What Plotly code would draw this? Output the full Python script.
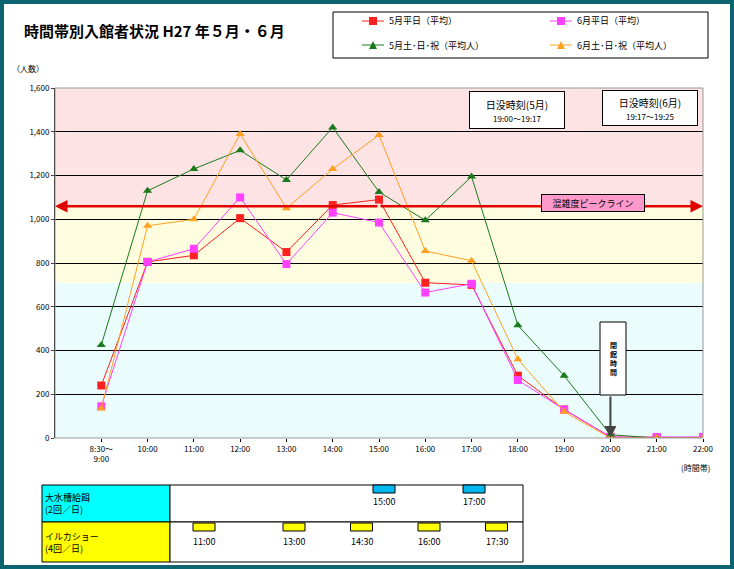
import plotly.graph_objects as go

cats = ["8:30～<br>9:00","10:00","11:00","12:00","13:00","14:00","15:00","16:00","17:00","18:00","19:00","20:00","21:00","22:00"]
may_wd = [240, 805, 835, 1005, 850, 1065, 1090, 710, 700, 285, 130, 5, 0, 0]
jun_wd = [145, 805, 865, 1100, 795, 1030, 985, 665, 705, 265, 130, 5, 5, 5]
may_we = [425, 1130, 1230, 1315, 1180, 1420, 1125, 995, 1195, 515, 285, 15, 0, 0]
jun_we = [135, 970, 1000, 1390, 1050, 1230, 1385, 855, 810, 360, 120, 0, 0, 0]
peak = 1060
feed_times = [15.0, 17.0]
show_times = [11.0, 13.0, 14.5, 16.0, 17.5]

W, H = 734, 569
L, R, T, B = 55, 703, 88, 438
def px(x): return (x - L) / (R - L)
def py(y): return (B - y) / (B - T)

x = list(range(len(cats)))
fig = go.Figure()
series = [("5月平日（平均）", may_wd, "#ff2020", "square"),
          ("6月平日（平均）", jun_wd, "#ff40ff", "square"),
          ("5月土･日･祝（平均人）", may_we, "#1a7a1a", "triangle-up"),
          ("6月土･日･祝（平均人）", jun_we, "#ffa020", "triangle-up")]
for name, v, c, s in series:
    fig.add_trace(go.Scatter(x=x, y=v, name=name, mode="lines+markers", showlegend=False,
                             line=dict(color=c, width=1), marker=dict(symbol=s, size=8, color=c)))

shapes = []
ann = []
def A(**k):
    k.setdefault("xref", "paper"); k.setdefault("yref", "paper")
    k.setdefault("showarrow", False); k.setdefault("xanchor", "center"); k.setdefault("yanchor", "middle")
    ann.append(k)

# arrows first so labels sit on top
for end in (13, -1):
    ann.append(dict(x=end, y=peak, xref="x", yref="y", ax=6, ay=peak, axref="x", ayref="y", text="",
                    showarrow=True, arrowhead=2, arrowwidth=2.5, arrowcolor="#e00000"))
ann.append(dict(x=11, y=0, xref="x", yref="y", ax=0, ay=-43, text="", showarrow=True,
                arrowhead=2, arrowsize=1.2, arrowwidth=2, arrowcolor="#444"))

shapes.append(dict(type="rect", xref="paper", yref="paper", x0=px(4), x1=px(730), y0=py(565), y1=py(4),
                   fillcolor="white", line=dict(width=0), layer="below"))
for y0, y1, c in [(0, 710, "#eafcfc"), (710, peak, "#fefde0"), (peak, 1600, "#fde3e3")]:
    shapes.append(dict(type="rect", xref="x", yref="y", x0=-1, x1=13, y0=y0, y1=y1,
                       fillcolor=c, line=dict(width=0), layer="below"))
shapes.append(dict(type="rect", xref="paper", yref="paper", x0=0, x1=1, y0=0, y1=1, line=dict(color="#999", width=1)))
# manual legend
shapes.append(dict(type="rect", xref="paper", yref="paper", x0=px(333), x1=px(708), y0=py(58), y1=py(12),
                   fillcolor="white", line=dict(color="black", width=1)))
for i, (name, v, c, s) in enumerate(series):
    lx = 362 if i % 2 == 0 else 550
    ly = 21 if i < 2 else 45
    shapes.append(dict(type="line", xref="paper", yref="paper", x0=px(lx), x1=px(lx + 22), y0=py(ly), y1=py(ly),
                       line=dict(color=c, width=1)))
    cx = lx + 11
    if s == "square":
        shapes.append(dict(type="rect", xref="paper", yref="paper", x0=px(cx-4), x1=px(cx+4), y0=py(ly+4), y1=py(ly-4),
                           fillcolor=c, line=dict(width=0)))
    else:
        path = "M %f,%f L %f,%f L %f,%f Z" % (px(cx-4), py(ly+4), px(cx+4), py(ly+4), px(cx), py(ly-4))
        shapes.append(dict(type="path", xref="paper", yref="paper", path=path, fillcolor=c, line=dict(width=0)))
    A(x=px(lx + 25), y=py(ly), text=name, xanchor="left", font=dict(size=9))
# closing box
shapes.append(dict(type="rect", xref="paper", yref="paper", x0=px(600), x1=px(626), y0=py(395), y1=py(322),
                   fillcolor="white", line=dict(color="black", width=1)))
# table
def tl(t): return 384 + (t - 15) * 45
shapes += [
    dict(type="rect", xref="paper", yref="paper", x0=px(42), x1=px(170), y0=py(522), y1=py(485), fillcolor="#00ffff", line=dict(color="black", width=1)),
    dict(type="rect", xref="paper", yref="paper", x0=px(42), x1=px(170), y0=py(562), y1=py(522), fillcolor="#ffff00", line=dict(color="black", width=1)),
    dict(type="rect", xref="paper", yref="paper", x0=px(170), x1=px(523), y0=py(522), y1=py(485), fillcolor="white", line=dict(color="black", width=1)),
    dict(type="rect", xref="paper", yref="paper", x0=px(170), x1=px(523), y0=py(562), y1=py(522), fillcolor="white", line=dict(color="black", width=1)),
]
def fmt(t): return "%d:%02d" % (int(t), int(round((t % 1) * 60)))
for t in feed_times:
    c = tl(t)
    shapes.append(dict(type="rect", xref="paper", yref="paper", x0=px(c-11), x1=px(c+11), y0=py(493), y1=py(485), fillcolor="#00b8f0", line=dict(color="black", width=1)))
    A(x=px(c), y=py(501), text=fmt(t), font=dict(size=9))
for t in show_times:
    c = tl(t)
    shapes.append(dict(type="rect", xref="paper", yref="paper", x0=px(c-11), x1=px(c+11), y0=py(531), y1=py(523), fillcolor="#ffff00", line=dict(color="black", width=1)))
    A(x=px(c), y=py(541), text=fmt(t), font=dict(size=9))

A(x=px(43), y=py(503), text="大水槽給餌<br>(2回／日)", xanchor="left", align="left", font=dict(size=9))
A(x=px(43), y=py(542), text="イルカショー<br>(4回／日)", xanchor="left", align="left", font=dict(size=9))
A(x=px(22), y=py(30), text="<b>時間帯別入館者状況 H27 年５月・６月</b>", xanchor="left", font=dict(size=15))
A(x=px(28), y=py(68), text="（人数）", font=dict(size=8))
A(x=px(695), y=py(468), text="(時間帯)", font=dict(size=8))
A(x=px(517), y=py(110), text="日没時刻(5月)<br><span style='font-size:8px'>19:00～19:17</span>",
  bordercolor="black", borderwidth=1, bgcolor="white", width=92, height=34, font=dict(size=10))
A(x=px(650), y=py(108), text="日没時刻(6月)<br><span style='font-size:8px'>19:17～19:25</span>",
  bordercolor="black", borderwidth=1, bgcolor="white", width=92, height=32, font=dict(size=10))
A(x=px(593), y=py(203), text="混雑度ピークライン", bordercolor="black", borderwidth=1, bgcolor="#ff99cc",
  width=100, height=14, font=dict(size=9))
A(x=px(613), y=py(358), text="<b>閉<br>館<br>時<br>間</b>", font=dict(size=7))

fig.update_layout(
    width=W, height=H, margin=dict(l=L, r=W - R, t=T, b=H - B, autoexpand=False),
    paper_bgcolor="#0c6470", plot_bgcolor="rgba(0,0,0,0)",
    font=dict(family="Noto Sans CJK JP", size=9, color="black"),
    shapes=shapes, annotations=ann, showlegend=False,
    xaxis=dict(range=[-1, 13], tickvals=x, ticktext=cats, showgrid=False, zeroline=False, ticks="outside",
               ticklen=3, tickcolor="black", tickfont=dict(size=8)),
    yaxis=dict(range=[0, 1600], dtick=200, tickformat=",", gridcolor="black", gridwidth=1,
               showline=True, linecolor="black", ticks="outside", ticklen=3, tickfont=dict(size=8), zeroline=False),
)
fig.write_html("out.html", config={"responsive": False, "displayModeBar": False})
with open("out.html", encoding="utf-8") as f:
    html = f.read()
html = html.replace("<body>", "<body style=\"margin:0\">", 1)
with open("out.html", "w", encoding="utf-8") as f:
    f.write(html)
